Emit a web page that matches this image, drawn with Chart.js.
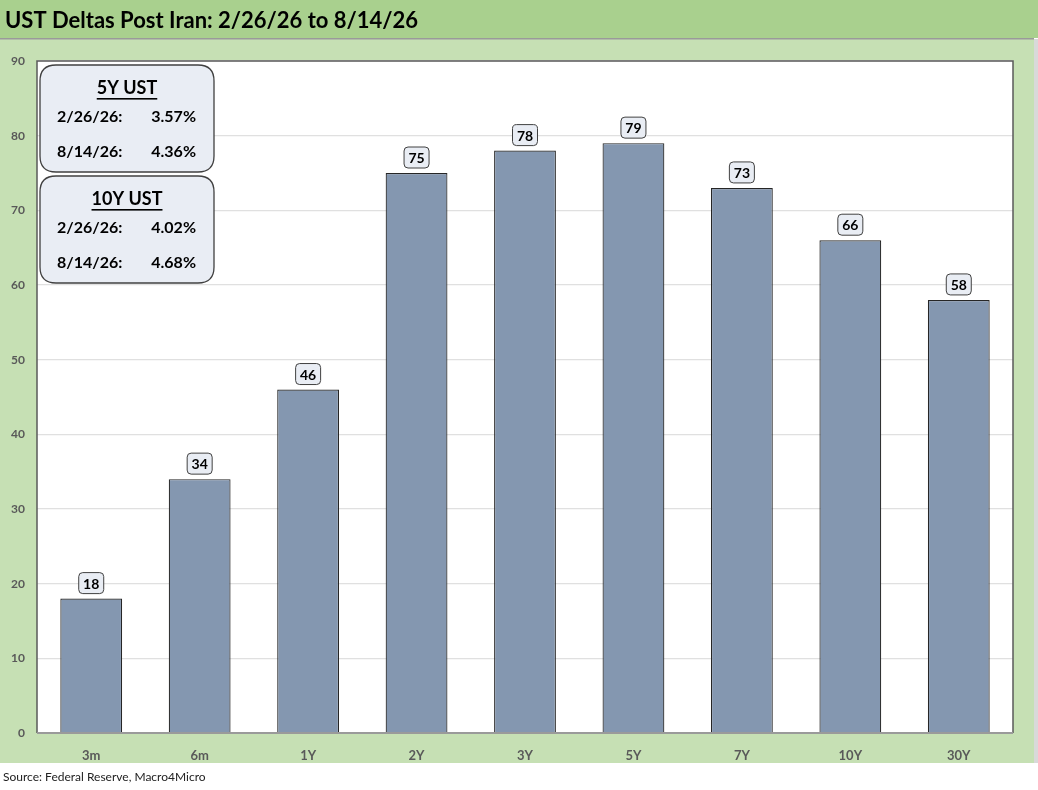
<!DOCTYPE html>
<html><head><meta charset="utf-8">
<script src="https://cdn.jsdelivr.net/npm/chart.js@4"></script>
<style>html,body{margin:0;padding:0;background:#fff;}#wrap{width:1038px;height:790px;position:relative;}</style>
</head><body><div id="wrap"><canvas id="c" width="1038" height="790"></canvas></div>
<script>
const categories = ["3m","6m","1Y","2Y","3Y","5Y","7Y","10Y","30Y"];
const deltas = [18,34,46,75,78,79,73,66,58];
const yTicks = [0,10,20,30,40,50,60,70,80,90];
const titleText = "UST Deltas Post Iran: 2/26/26 to 8/14/26";
const sourceText = "Source: Federal Reserve, Macro4Micro";
const boxes = [
  {head:"5Y UST", rows:[["2/26/26:","3.57%"],["8/14/26:","4.36%"]]},
  {head:"10Y UST", rows:[["2/26/26:","4.02%"],["8/14/26:","4.68%"]]}
];
const FONT = "Lato, 'Open Sans', sans-serif";

function rr(ctx,x,y,w,h,r){ctx.beginPath();ctx.moveTo(x+r,y);ctx.lineTo(x+w-r,y);ctx.quadraticCurveTo(x+w,y,x+w,y+r);ctx.lineTo(x+w,y+h-r);ctx.quadraticCurveTo(x+w,y+h,x+w-r,y+h);ctx.lineTo(x+r,y+h);ctx.quadraticCurveTo(x,y+h,x,y+h-r);ctx.lineTo(x,y+r);ctx.quadraticCurveTo(x,y,x+r,y);ctx.closePath();}

const bgPlugin = {
  id:'bg',
  beforeDraw(chart){
    const ctx=chart.ctx, a=chart.chartArea;
    ctx.save();
    ctx.fillStyle='#fff';ctx.fillRect(0,0,1038,790);
    ctx.fillStyle='#c6e0b4';ctx.fillRect(0,39,1034,724);
    ctx.fillStyle='#a9d08e';ctx.fillRect(0,0,1038,38);
    ctx.fillStyle='#9a9a9a';ctx.fillRect(0,38,1034,1.5);
    ctx.fillStyle='#d9d9d9';ctx.fillRect(1034,39,4,724);
    ctx.fillStyle='#fff';ctx.fillRect(a.left,a.top,a.right-a.left,a.bottom-a.top);
    ctx.fillStyle='#000';ctx.font="bold 22px "+FONT;ctx.textBaseline='middle';ctx.textAlign='left';
    ctx.fillText(titleText,5,21);
    ctx.font="12px "+FONT;ctx.fillStyle='#222';
    ctx.fillText(sourceText,3,777);
    ctx.restore();
  },
  afterDatasetsDraw(chart){
    const ctx=chart.ctx,a=chart.chartArea;
    ctx.save();
    ctx.strokeStyle='#595959';ctx.lineWidth=1.5;
    ctx.beginPath();ctx.moveTo(a.left,a.bottom);ctx.lineTo(a.left,a.top);ctx.lineTo(a.right,a.top);ctx.lineTo(a.right,a.bottom);ctx.stroke();
    ctx.strokeStyle='#9a9a9a';ctx.lineWidth=2;
    ctx.beginPath();ctx.moveTo(a.left,a.bottom);ctx.lineTo(a.right,a.bottom);ctx.stroke();
    const meta=chart.getDatasetMeta(0);
    ctx.font="bold 14px "+FONT;ctx.textAlign='center';ctx.textBaseline='middle';
    meta.data.forEach((bar,i)=>{
      const t=String(deltas[i]);
      const w=25,h=21,x=bar.x-w/2,y=bar.y-h-5;
      rr(ctx,x,y,w,h,4);ctx.fillStyle='#e9edf4';ctx.fill();ctx.strokeStyle='#404040';ctx.lineWidth=1;ctx.stroke();
      ctx.fillStyle='#000';ctx.fillText(t,bar.x,y+h/2+1);
    });
    boxes.forEach((b,k)=>{
      const x=40,y=65+k*111,w=174,h=107;
      rr(ctx,x,y,w,h,16);ctx.fillStyle='#e9edf4';ctx.fill();ctx.strokeStyle='#404040';ctx.lineWidth=1.3;ctx.stroke();
      ctx.fillStyle='#000';ctx.textBaseline='middle';
      ctx.font="bold 18px "+FONT;ctx.textAlign='center';
      const cx=x+w/2, hy=y+23;
      ctx.fillText(b.head,cx,hy);
      const tw=ctx.measureText(b.head).width;
      ctx.fillRect(cx-tw/2,hy+10,tw,1.6);
      ctx.font="bold 16px "+FONT;
      b.rows.forEach((r,j)=>{
        const ry=y+52+j*35;
        ctx.textAlign='left';ctx.fillText(r[0],x+17,ry);
        ctx.textAlign='right';ctx.fillText(r[1],x+156,ry);
      });
    });
    ctx.restore();
  }
};

new Chart(document.getElementById('c'),{
  type:'bar',
  data:{labels:categories,datasets:[{data:deltas,backgroundColor:'#8497b0',borderColor:'#262626',borderWidth:1.2,borderSkipped:'bottom',categoryPercentage:1,barPercentage:0.57}]},
  options:{
    responsive:false,animation:false,devicePixelRatio:1,
    layout:{padding:{left:0,right:25,top:61,bottom:27}},
    plugins:{legend:{display:false},tooltip:{enabled:false}},
    scales:{
      x:{grid:{display:false},border:{display:false},
         ticks:{color:'#595959',font:{family:FONT,size:13,weight:'bold'},padding:7},
         afterFit(s){s.height=30;}},
      y:{min:0,max:90,
         afterBuildTicks(s){s.ticks=yTicks.map(v=>({value:v}));},
         grid:{color:'#e0e0e0',lineWidth:1.3,drawTicks:false},border:{display:false},
         ticks:{color:'#595959',font:{family:FONT,size:12,weight:'bold'},padding:12,align:'center'},
         afterFit(s){s.width=37;}}
    }
  },
  plugins:[bgPlugin]
});
</script></body></html>
